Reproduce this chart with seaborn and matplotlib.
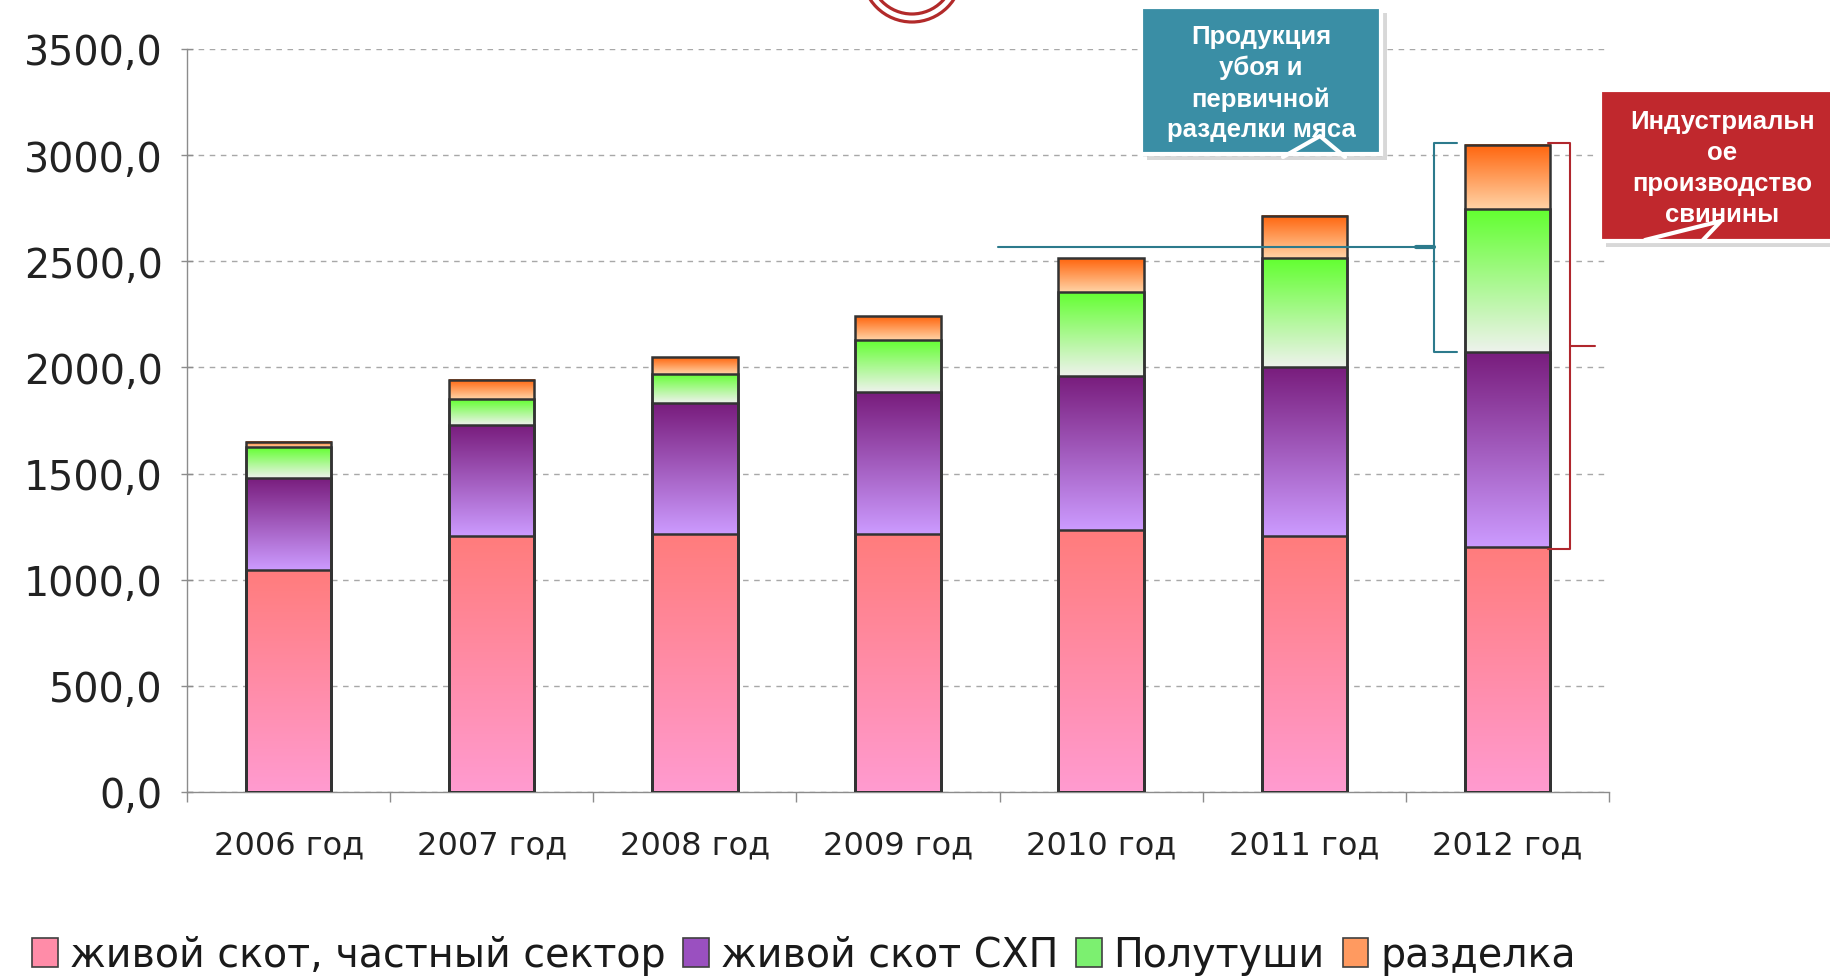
import numpy as np
import matplotlib
matplotlib.use('Agg')
import matplotlib.pyplot as plt
import seaborn as sns
from matplotlib.colors import LinearSegmentedColormap
from matplotlib.patches import Rectangle, Ellipse, Patch
from matplotlib.lines import Line2D

# data
years = ['2006 год', '2007 год', '2008 год', '2009 год', '2010 год', '2011 год', '2012 год']
private_sector = [1046, 1205, 1216, 1216, 1233, 1205, 1156]
livestock_shp = [434, 523, 617, 666, 726, 798, 919]
half_carcass = [144, 121, 137, 248, 396, 512, 671]
cutting = [27, 94, 77, 110, 160, 198, 303]
series_names = ['живой скот, частный сектор', 'живой скот СХП', 'Полутуши', 'разделка']
y_ticks = [0, 500, 1000, 1500, 2000, 2500, 3000, 3500]

# gradient colours per series: (bottom, top)
grad_colors = [('#FF9BD0', '#FF7C7C'),
               ('#CC9BFF', '#781C7C'),
               ('#EEF2EC', '#62FF30'),
               ('#FFD3A6', '#FF640C')]
legend_colors = ['#FF8CA8', '#9A50C0', '#7CF070', '#FF9A60']

sns.set_theme(style='white')
plt.rcParams['font.family'] = ['DejaVu Sans']

W, H = 1831, 979
fig = plt.figure(figsize=(W / 100, H / 100), dpi=100)
ax = fig.add_axes([187 / W, 1 - 793 / H, (1609 - 187) / W, (793 - 50) / H])


def fx(x):
    return x / W


def fy(y):
    return 1 - y / H


layers = [private_sector, livestock_shp, half_carcass, cutting]
cum = np.cumsum(layers, axis=0)

# outlines: draw cumulative bars tallest first, keep only the edges
bar_patches = {}
for i in reversed(range(4)):
    n0 = len(ax.patches)
    sns.barplot(x=years, y=cum[i], ax=ax, width=0.42, errorbar=None,
                color=grad_colors[i][1], edgecolor='#333333', linewidth=1.8, zorder=3)
    bar_patches[i] = ax.patches[n0:]
    for p in bar_patches[i]:
        p.set_facecolor('none')

# gradient fill for every segment
grad = np.linspace(0, 1, 256).reshape(-1, 1)
for i in range(4):
    cmap = LinearSegmentedColormap.from_list('g%d' % i, grad_colors[i])
    for j, p in enumerate(bar_patches[i]):
        bottom = cum[i - 1][j] if i > 0 else 0
        top = cum[i][j]
        x0 = p.get_x()
        x1 = x0 + p.get_width()
        ax.imshow(grad, extent=[x0, x1, bottom, top], origin='lower', cmap=cmap,
                  aspect='auto', interpolation='bicubic', zorder=2)

ax.set_xlim(-0.5, 6.5)
ax.set_ylim(0, 3500)

# axes styling
ax.set_yticks(y_ticks)
ax.set_yticklabels([('%.1f' % v).replace('.', ',') for v in y_ticks])
ax.set_xticks(range(len(years)))
ax.set_xticklabels(years)
ax.set_xticks(np.arange(-0.5, len(years), 1), minor=True)
ax.tick_params(axis='y', direction='inout', length=9, width=1, color='#8c8c8c',
               labelsize=28.5, pad=13, labelcolor='#222222', left=True)
ax.tick_params(axis='x', which='major', length=0, labelsize=23, pad=27, labelcolor='#222222')
ax.tick_params(axis='x', which='minor', direction='out', length=7, width=1, color='#8c8c8c', bottom=True)
ax.yaxis.grid(True, linestyle=(0, (4, 4)), color='#a8a8a8', linewidth=1)
ax.set_axisbelow(True)
for s in ['top', 'right']:
    ax.spines[s].set_visible(False)
for s in ['left', 'bottom']:
    ax.spines[s].set_color('#8c8c8c')
    ax.spines[s].set_linewidth(1)
ax.set_xlabel('')
ax.set_ylabel('')

# brackets around the 2012 bar
last = len(years) - 1
top2012 = cum[3][last] + 10
teal = '#2C7A8C'
tb = cum[1][last]
ax.plot([5.75, 5.64, 5.64, 5.75], [top2012, top2012, tb, tb], color=teal, lw=1.5, clip_on=False, zorder=4)
ax.plot([3.49, 5.64], [(top2012 + tb) / 2] * 2, color=teal, lw=1.5, clip_on=False, zorder=4)
ax.plot([5.55, 5.64], [(top2012 + tb) / 2] * 2, color=teal, lw=3, clip_on=False, zorder=4)
red = '#B0272D'
rb = cum[0][last] - 10
ax.plot([6.20, 6.31, 6.31, 6.20], [top2012, top2012, rb, rb], color=red, lw=1.5, clip_on=False, zorder=4)
ax.plot([6.31, 6.43], [(top2012 + rb) / 2] * 2, color=red, lw=1.5, clip_on=False, zorder=4)


# callout boxes
def callout(x0, y0, x1, y1, color, text, tail):
    fig.add_artist(Rectangle((fx(x0 + 6), fy(y1 + 6)), fx(x1 - x0), (y1 - y0) / H,
                             transform=fig.transFigure, facecolor='#808080', alpha=0.3,
                             edgecolor='none', zorder=5))
    fig.add_artist(Rectangle((fx(x0), fy(y1)), fx(x1 - x0), (y1 - y0) / H,
                             transform=fig.transFigure, facecolor=color,
                             edgecolor='white', linewidth=3, zorder=6))
    fig.text(fx((x0 + x1) / 2), fy((y0 + y1) / 2 + 2), text, ha='center', va='center',
             color='white', fontsize=18.5, fontweight='bold', family='Liberation Sans',
             linespacing=1.36, zorder=7)
    fig.add_artist(Line2D([fx(p[0]) for p in tail], [fy(p[1]) for p in tail],
                          transform=fig.transFigure, color='white', lw=3, zorder=7))


callout(1141, 8, 1381, 155, '#3A8EA5', 'Продукция\nубоя и\nпервичной\nразделки мяса',
        [(1283, 158), (1320, 137), (1345, 158)])
callout(1600, 91, 1845, 242, '#C0282D', 'Индустриальн\nое\nпроизводство\nсвинины',
        [(1645, 241), (1721, 222), (1703, 241)])

# red double ring at the top
for r in (50, 42):
    fig.add_artist(Ellipse((fx(912), fy(-27)), 2 * r / W, 2 * r / H, transform=fig.transFigure,
                           fill=False, edgecolor='#B22A2A', linewidth=2.3, zorder=5))

# legend
handles = [Patch(facecolor=c, edgecolor='#404040', linewidth=1.2) for c in legend_colors]
fig.legend(handles, series_names, loc='center left', bbox_to_anchor=(fx(32), fy(956)),
           ncol=4, frameon=False, fontsize=28.5, handlelength=0.65, handleheight=0.75,
           handletextpad=0.3, columnspacing=0.45, borderpad=0, borderaxespad=0,
           labelcolor='#1a1a1a')

fig.savefig('out.png', dpi=100)
